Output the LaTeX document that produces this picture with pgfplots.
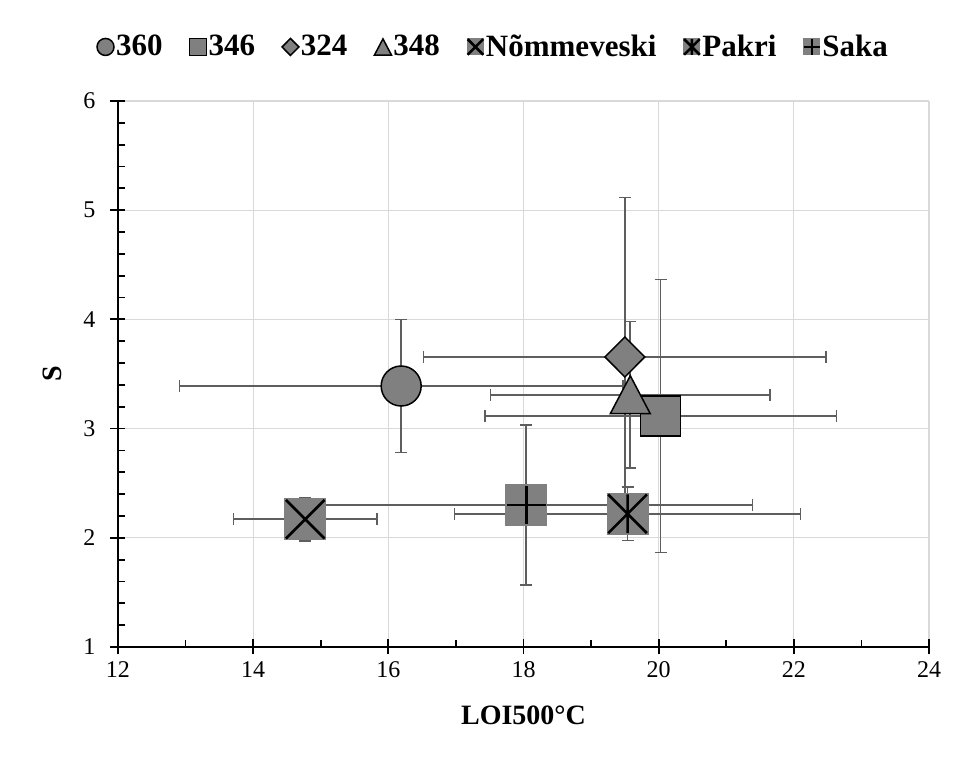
\documentclass[border=0pt]{standalone}
\usepackage{fontspec}
\setmainfont{Liberation Serif}
\usepackage{pgfplots}
\pgfplotsset{compat=1.18}

\definecolor{mk}{HTML}{808080}
\definecolor{eb}{HTML}{5E5E5E}
\definecolor{gr}{HTML}{D9D9D9}

% triangle centred on its bounding box
\pgfdeclareplotmark{tri}{%
  \pgfpathmoveto{\pgfqpoint{0pt}{0.95\pgfplotmarksize}}%
  \pgfpathlineto{\pgfqpoint{-\pgfplotmarksize}{-0.95\pgfplotmarksize}}%
  \pgfpathlineto{\pgfqpoint{\pgfplotmarksize}{-0.95\pgfplotmarksize}}%
  \pgfpathclose
  \pgfusepathqfillstroke}

% grey squares with a black cross / star / plus
\pgfdeclareplotmark{sqx}{%
  \pgfpathrectangle{\pgfqpoint{-\pgfplotmarksize}{-\pgfplotmarksize}}{\pgfqpoint{2\pgfplotmarksize}{2\pgfplotmarksize}}%
  \pgfusepathqfill
  \pgfscope
  \pgfsetstrokecolor{black}\pgfsetlinewidth{1.3pt}%
  \pgfpathmoveto{\pgfqpoint{-0.92\pgfplotmarksize}{-0.92\pgfplotmarksize}}%
  \pgfpathlineto{\pgfqpoint{0.92\pgfplotmarksize}{0.92\pgfplotmarksize}}%
  \pgfpathmoveto{\pgfqpoint{-0.92\pgfplotmarksize}{0.92\pgfplotmarksize}}%
  \pgfpathlineto{\pgfqpoint{0.92\pgfplotmarksize}{-0.92\pgfplotmarksize}}%
  \pgfusepathqstroke
  \endpgfscope}
\pgfdeclareplotmark{sqast}{%
  \pgfpathrectangle{\pgfqpoint{-\pgfplotmarksize}{-\pgfplotmarksize}}{\pgfqpoint{2\pgfplotmarksize}{2\pgfplotmarksize}}%
  \pgfusepathqfill
  \pgfscope
  \pgfsetstrokecolor{black}\pgfsetlinewidth{1.3pt}%
  \pgfpathmoveto{\pgfqpoint{-0.92\pgfplotmarksize}{-0.92\pgfplotmarksize}}%
  \pgfpathlineto{\pgfqpoint{0.92\pgfplotmarksize}{0.92\pgfplotmarksize}}%
  \pgfpathmoveto{\pgfqpoint{-0.92\pgfplotmarksize}{0.92\pgfplotmarksize}}%
  \pgfpathlineto{\pgfqpoint{0.92\pgfplotmarksize}{-0.92\pgfplotmarksize}}%
  \pgfpathmoveto{\pgfqpoint{0pt}{-0.92\pgfplotmarksize}}%
  \pgfpathlineto{\pgfqpoint{0pt}{0.92\pgfplotmarksize}}%
  \pgfusepathqstroke
  \endpgfscope}
\pgfdeclareplotmark{sqplus}{%
  \pgfpathrectangle{\pgfqpoint{-\pgfplotmarksize}{-\pgfplotmarksize}}{\pgfqpoint{2\pgfplotmarksize}{2\pgfplotmarksize}}%
  \pgfusepathqfill
  \pgfscope
  \pgfsetstrokecolor{black}\pgfsetlinewidth{1.3pt}%
  \pgfpathmoveto{\pgfqpoint{-0.92\pgfplotmarksize}{0pt}}%
  \pgfpathlineto{\pgfqpoint{0.92\pgfplotmarksize}{0pt}}%
  \pgfpathmoveto{\pgfqpoint{0pt}{-0.92\pgfplotmarksize}}%
  \pgfpathlineto{\pgfqpoint{0pt}{0.92\pgfplotmarksize}}%
  \pgfusepathqstroke
  \endpgfscope}

\begin{document}
\begin{tikzpicture}
\begin{axis}[
  scale only axis, width=405.5pt, height=273pt,
  xmin=12, xmax=24, ymin=1, ymax=6,
  xtick={12,14,...,24}, ytick={1,...,6},
  minor x tick num=1, minor y tick num=4,
  axis x line=bottom, axis y line=left,
  axis line style={-, line width=0.9pt, black},
  grid=major, major grid style={gr, line width=0.65pt},
  tick align=center, tick style={black, line width=0.9pt},
  major tick length=7.5pt, minor tick length=3.5pt,
  minor x tick style={yshift=1.75pt}, minor y tick style={xshift=1.75pt},
  /pgf/number format/assume math mode=true,
  ticklabel style={font=\fontsize{12}{14}\selectfont},
  yticklabel shift=4pt,
  xlabel={LOI500°C}, ylabel={S},
  xlabel style={at={(axis description cs:0.5,-0.1245)}, anchor=center, font=\bfseries\fontsize{14}{16}\selectfont},
  ylabel style={at={(axis description cs:-0.0814,0.5)}, anchor=center, font=\bfseries\fontsize{14}{16}\selectfont},
  legend columns=7,
  legend style={at={(axis description cs:0.463,1.099)}, anchor=center, draw=none, fill=none,
    font=\bfseries\fontsize{15.5}{18}\selectfont,
    /tikz/every even column/.append style={column sep=12.5pt},
    nodes={inner sep=1pt}},
  legend image code/.code={\draw[#1, mark size=4.25pt] plot coordinates {(0.1cm,0cm)};},
]
\coordinate (bl) at (rel axis cs:0,0);
\coordinate (tr) at (rel axis cs:1,1);
% error bars first, below every marker
\addplot[forget plot, only marks, mark=*, mark size=0pt, eb,
  error bars/.cd, x dir=both, x explicit, y dir=both, y explicit,
  error bar style={draw=eb, line width=0.8pt},
  error mark=-,
  error mark options={rotate=90, draw=eb, line width=0.8pt, mark size=3pt}]
coordinates {
  (16.19,3.39)  +- (3.28,0.61)
  (20.03,3.115) +- (2.60,1.25)
  (19.50,3.656) +- (2.98,1.46)
  (19.58,3.31)  +- (2.07,0.67)
  (14.77,2.17)  +- (1.06,0.20)
  (19.54,2.22)  +- (2.56,0.245)
  (18.04,2.30)  +- (3.35,0.735)
};
% markers
\addplot[only marks, mark=*, mark size=10pt, mark options={fill=mk, draw=black, line width=0.75pt}]
  coordinates {(16.19,3.39)};
\addlegendentry{360}
\addplot[only marks, mark=square*, mark size=10pt, mark options={fill=mk, draw=black, line width=0.75pt}]
  coordinates {(20.03,3.115)};
\addlegendentry{346}
\addplot[only marks, mark=diamond*, mark size=10pt, mark options={fill=mk, draw=black, line width=0.75pt, xscale=1.33}]
  coordinates {(19.50,3.656)};
\addlegendentry{324}
\addplot[only marks, mark=tri, mark size=10pt, mark options={fill=mk, draw=black, line width=0.75pt}]
  coordinates {(19.58,3.31)};
\addlegendentry{348}
\addplot[only marks, mark=sqx, mark size=10.5pt, mark options={fill=mk, draw=mk}]
  coordinates {(14.77,2.17)};
\addlegendentry{Nõmmeveski}
\addplot[only marks, mark=sqast, mark size=10.5pt, mark options={fill=mk, draw=mk}]
  coordinates {(19.54,2.22)};
\addlegendentry{Pakri}
\addplot[only marks, mark=sqplus, mark size=10.5pt, mark options={fill=mk, draw=mk}]
  coordinates {(18.04,2.30)};
\addlegendentry{Saka}
\end{axis}
\pgfresetboundingbox
\path ([shift={(-59pt,-55.5pt)}]bl) rectangle ([shift={(15pt,50.5pt)}]tr);
\end{tikzpicture}
\end{document}
